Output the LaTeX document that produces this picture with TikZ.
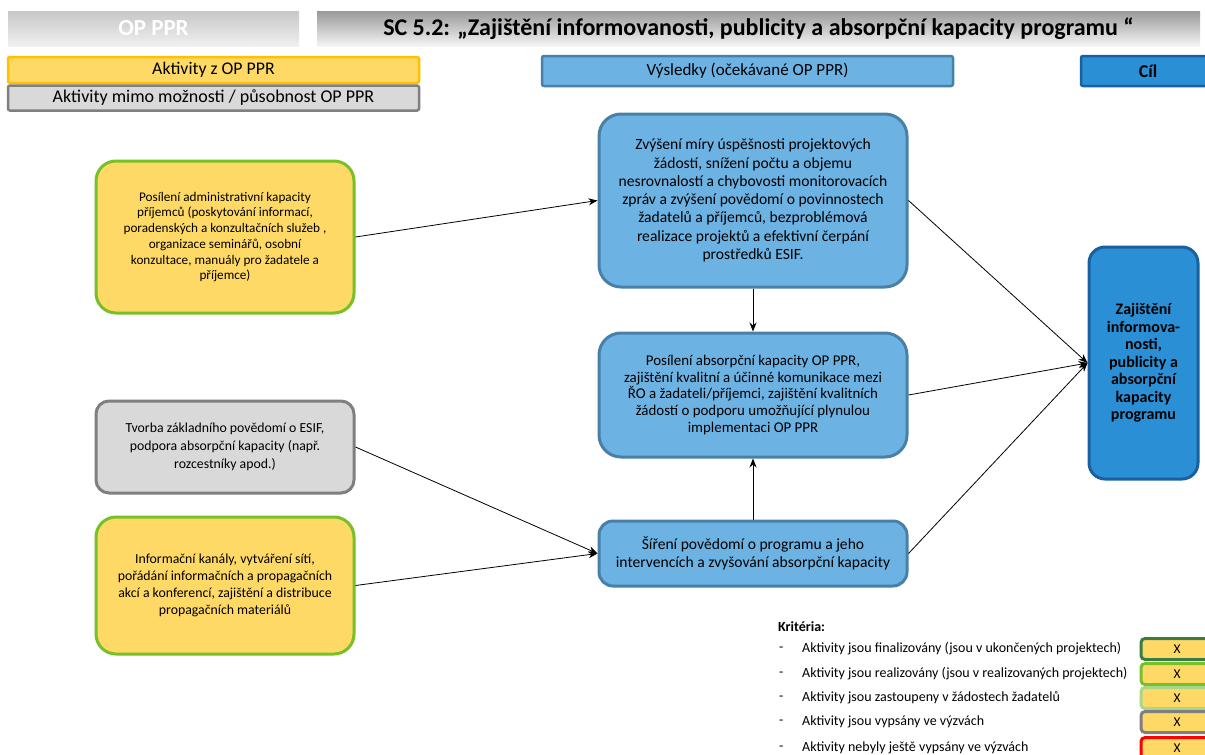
\documentclass[tikz,border=0pt]{standalone}
\usepackage{fontspec}
\setmainfont{Carlito}
\usetikzlibrary{arrows.meta}
\definecolor{yel}{RGB}{255,217,102}
\definecolor{orangeb}{RGB}{255,192,0}
\definecolor{actgreen}{RGB}{120,192,40}
\definecolor{darkgreen}{RGB}{58,125,68}
\definecolor{lightgreen}{RGB}{169,214,140}
\definecolor{grayfill}{RGB}{217,217,217}
\definecolor{grayb}{RGB}{127,127,127}
\definecolor{resblue}{RGB}{108,178,226}
\definecolor{resborder}{RGB}{72,128,168}
\definecolor{goalblue}{RGB}{42,143,212}
\definecolor{goalborder}{RGB}{24,96,158}
\definecolor{redb}{RGB}{255,0,0}
\begin{document}
\begin{tikzpicture}[x=1pt,y=-1pt,
  box/.style={rounded corners=20pt, line width=3pt, align=center, inner sep=0pt, text=black},
  actbox/.style={box, fill=yel, draw=actgreen},
  outbox/.style={box, fill=grayfill, draw=grayb, rounded corners=13pt},
  resbox/.style={box, fill=resblue, draw=resborder, rounded corners=22pt},
  goalbox/.style={box, fill=goalblue, draw=goalborder, rounded corners=16pt},
  legbox/.style={line width=2.5pt, inner sep=0pt, rounded corners=2pt, align=center},
  keybox/.style={line width=3pt, fill=yel, rounded corners=4pt, minimum width=72pt, minimum height=21pt, inner sep=0pt, font=\fontsize{13.5}{15}\selectfont},
  crit/.style={anchor=west, inner sep=0pt, font=\fontsize{14}{16}\selectfont},
  arr/.style={-{Stealth[length=9pt,width=7pt]}, line width=0.8pt, black}
]
\clip (0,0) rectangle (1205,755);
\useasboundingbox (0,0) rectangle (1205,755);
\fill[white] (0,0) rectangle (1205,755);

% header
\node (hdrL) [shade, top color=black!22, bottom color=black!6, minimum width=291pt, minimum height=35pt, inner sep=0pt, text=white, font=\fontsize{23}{26}\bfseries] at (153.5,28.5) {OP PPR};
\node (hdrR) [shade, top color=black!40, bottom color=black!4, minimum width=883pt, minimum height=35pt, inner sep=0pt, font=\fontsize{24}{27}\bfseries] at (758.5,28.5) {SC 5.2: „Zajištění informovanosti, publicity a absorpční kapacity programu “};

% top legend
\node (legA) [legbox, fill=yel, draw=orangeb, minimum width=411pt, minimum height=26pt, font=\fontsize{17.8}{20}\selectfont] at (213.5,70) {Aktivity z OP PPR};
\node (legB) [legbox, fill=grayfill, draw=grayb, minimum width=411pt, minimum height=25pt, font=\fontsize{18}{20}\selectfont] at (213.5,98) {Aktivity mimo možnosti / působnost OP PPR};
\node (legR) [legbox, fill=resblue, draw=resborder, minimum width=411pt, minimum height=30pt, font=\fontsize{17}{20}\selectfont] at (747.5,71) {Výsledky (očekávané OP PPR)};
\node (legC) [legbox, fill=goalblue, draw=goalborder, minimum width=134pt, minimum height=30pt, font=\fontsize{18}{20}\bfseries] at (1148,71) {Cíl};

% activities
\node (A1) [actbox, minimum width=258pt, minimum height=152pt, font=\fontsize{13.2}{15.7}\selectfont] at (225,237)
  {Posílení administrativní kapacity\\ příjemců (poskytování informací,\\ poradenských a  konzultačních služeb ,\\ organizace seminářů, osobní\\ konzultace, manuály pro žadatele a\\ příjemce)};
\node (A2) [outbox, minimum width=258pt, minimum height=92pt, font=\fontsize{13.8}{18.3}\selectfont] at (225,447)
  {Tvorba základního povědomí o ESIF,\\ podpora absorpční kapacity (např.\\ rozcestníky apod.)};
\node (A3) [actbox, minimum width=258pt, minimum height=137pt, font=\fontsize{13.8}{16.9}\selectfont] at (225,585.5)
  {Informační kanály, vytváření sítí,\\ pořádání informačních a propagačních\\ akcí a konferencí, zajištění a distribuce\\ propagačních materiálů};

% results
\node (R1) [resbox, minimum width=308pt, minimum height=173pt, font=\fontsize{15.6}{18.3}\selectfont] at (753,200.5)
  {Zvýšení míry úspěšnosti projektových\\ žádostí, snížení počtu a objemu\\ nesrovnalostí a chybovosti monitorovacích\\ zpráv a zvýšení povědomí o povinnostech\\ žadatelů a příjemců, bezproblémová\\ realizace projektů a efektivní čerpání\\ prostředků ESIF.};
\node (R2) [resbox, minimum width=308pt, minimum height=124pt, font=\fontsize{14.9}{16.8}\selectfont] at (753,395)
  {Posílení absorpční kapacity OP PPR,\\ zajištění kvalitní a účinné komunikace mezi\\ ŘO a žadateli/příjemci, zajištění kvalitních\\ žádostí o podporu umožňující plynulou\\ implementaci OP PPR};
\node (R3) [resbox, rounded corners=14pt, minimum width=308pt, minimum height=65pt, font=\fontsize{15.6}{18.3}\selectfont] at (753,553.5)
  {Šíření povědomí o programu a jeho\\ intervencích a zvyšování absorpční kapacity};

% goal
\node (G) [goalbox, minimum width=109pt, minimum height=232pt, font=\fontsize{16}{17.5}\bfseries] at (1143.5,363)
  {Zajištění\\ informova-\\ nosti,\\ publicity a\\ absorpční\\ kapacity\\ programu};

% connectors
\draw[arr] (A1.east) -- (R1.west);
\draw[arr] (R1.south) -- (R2.north);
\draw[arr] (R3.north) -- (R2.south);
\draw[arr] (A2.east) -- (R3.west);
\draw[arr] (A3.east) -- (R3.west);
\draw[arr] (R1.east) -- (G.west);
\draw[arr] (R2.east) -- (G.west);
\draw[arr] (R3.east) -- (G.west);

% criteria legend
\node (kt) [anchor=west, inner sep=0pt, font=\fontsize{14}{16}\bfseries] at (778,627) {Kritéria:};
\foreach \i/\yy/\t/\c in {1/649/{Aktivity jsou finalizovány (jsou v ukončených projektech)}/darkgreen,
                          2/674/{Aktivity jsou realizovány (jsou v realizovaných projektech)}/actgreen,
                          3/698/{Aktivity jsou zastoupeny v žádostech žadatelů}/lightgreen,
                          4/722/{Aktivity jsou vypsány ve výzvách}/grayb,
                          5/748/{Aktivity nebyly ještě vypsány ve výzvách}/redb}{
  \node (d\i) [anchor=west, inner sep=0pt, font=\fontsize{14}{16}\selectfont] at (779,\yy) {-};
  \node (c\i) [crit] at (802,\yy) {\t};
  \node (k\i) [keybox, draw=\c] at (1177,\yy) {X};
}
\end{tikzpicture}
\end{document}
